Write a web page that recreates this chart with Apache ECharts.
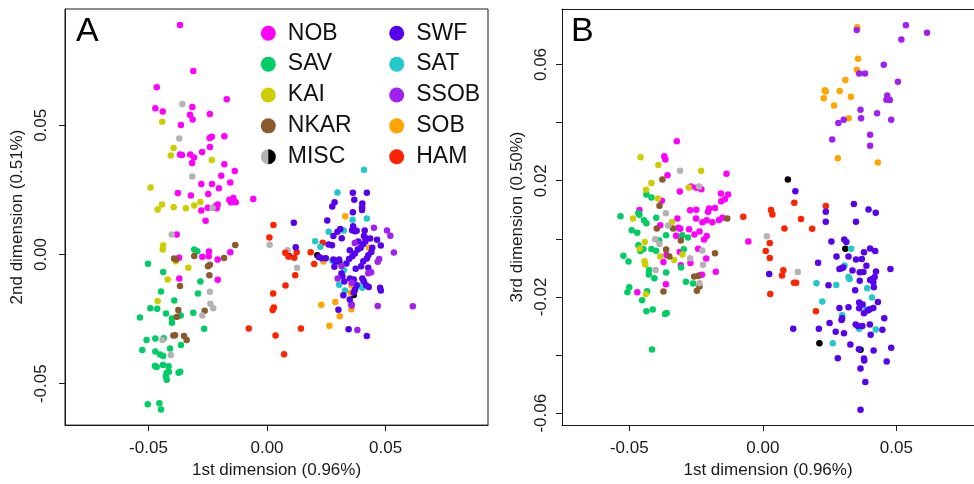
<!DOCTYPE html>
<html>
<head>
<meta charset="utf-8">
<script src="https://cdn.jsdelivr.net/npm/echarts@6/dist/echarts.min.js"></script>
<style>
  html, body { margin: 0; padding: 0; background: #fff; }
  #chart { width: 974px; height: 484px; }
</style>
</head>
<body>
<div id="chart"></div>
<script>
// Panel A: 1st vs 2nd dimension
const nobA = [[-0.0367,0.0888],[-0.0311,0.0710],[-0.0465,0.0647],[-0.0170,0.0601],[-0.0471,0.0566],[-0.0440,0.0553],[-0.0315,0.0571],[-0.0325,0.0541],[-0.0241,0.0544],[-0.0314,0.0522],[-0.0363,0.0501],[-0.0180,0.0458],[-0.0242,0.0451],[-0.0233,0.0456],[-0.0241,0.0416],[-0.0367,0.0387],[-0.0359,0.0385],[-0.0324,0.0387],[-0.0308,0.0375],[-0.0274,0.0397],[-0.0316,0.0354],[-0.0180,0.0349],[-0.0136,0.0323],[-0.0193,0.0305],[-0.0277,0.0273],[-0.0232,0.0273],[-0.0155,0.0279],[-0.0203,0.0256],[-0.0376,0.0238],[-0.0321,0.0228],[-0.0248,0.0234],[-0.0142,0.0219],[-0.0277,0.0170],[-0.0250,0.0181],[-0.0219,0.0186],[-0.0208,0.0194],[-0.0212,0.0179],[-0.0159,0.0212],[-0.0152,0.0202],[-0.0132,0.0202],[-0.0259,0.0131],[-0.0381,0.0077],[-0.0371,-0.0012],[-0.0273,-0.0009],[-0.0245,0.0012],[-0.0246,-0.0007],[-0.0208,-0.0019],[-0.0155,0.0009],[-0.0370,-0.0093],[-0.0208,-0.0098],[-0.0058,0.0215]];
const savA = [[-0.0307,0.0019],[-0.0294,0.0013],[-0.0502,-0.0036],[-0.0438,-0.0068],[-0.0281,-0.0104],[-0.0447,-0.0143],[-0.0291,-0.0151],[-0.0391,-0.0178],[-0.0492,-0.0208],[-0.0463,-0.0210],[-0.0426,-0.0228],[-0.0311,-0.0225],[-0.0401,-0.0248],[-0.0401,-0.0264],[-0.0536,-0.0244],[-0.0364,-0.0236],[-0.0265,-0.0287],[-0.0508,-0.0331],[-0.0471,-0.0325],[-0.0436,-0.0324],[-0.0363,-0.0350],[-0.0409,-0.0364],[-0.0526,-0.0369],[-0.0471,-0.0375],[-0.0451,-0.0387],[-0.0438,-0.0393],[-0.0473,-0.0431],[-0.0465,-0.0435],[-0.0439,-0.0427],[-0.0415,-0.0432],[-0.0423,-0.0457],[-0.0414,-0.0454],[-0.0373,-0.0457],[-0.0366,-0.0454],[-0.0427,-0.0472],[-0.0423,-0.0485],[-0.0503,-0.0579],[-0.0454,-0.0575],[-0.0447,-0.0600]];
const kaiA = [[-0.0442,0.0514],[-0.0394,0.0412],[-0.0406,0.0383],[-0.0233,0.0366],[-0.0491,0.0259],[-0.0443,0.0194],[-0.0461,0.0174],[-0.0394,0.0183],[-0.0342,0.0179],[-0.0307,0.0190],[-0.0281,0.0203],[-0.0438,0.0035],[-0.0440,0.0019],[-0.0385,-0.0026],[-0.0332,-0.0051],[-0.0419,-0.0097],[-0.0461,-0.0180]];
const nkarA = [[-0.0134,0.0037],[-0.0392,-0.0015],[-0.0384,-0.0019],[-0.0307,-0.0006],[-0.0249,-0.0045],[-0.0241,-0.0040],[-0.0243,-0.0080],[-0.0181,-0.0013],[-0.0367,-0.0122],[-0.0374,-0.0215],[-0.0380,-0.0241],[-0.0263,-0.0218],[-0.0395,-0.0313],[-0.0388,-0.0312],[-0.0350,-0.0315],[-0.0339,-0.0331]];
const miscGreyA = [[-0.0357,0.0582],[-0.0370,0.0449],[-0.0315,0.0302],[-0.0230,0.0180],[-0.0402,0.0077],[-0.0241,-0.0144],[-0.0239,-0.0190],[-0.0227,-0.0208],[-0.0273,-0.0236],[-0.0441,-0.0331],[-0.0406,-0.0389],[0.0011,0.0038],[0.0087,0.0017],[0.0127,-0.0051]];
const miscBlackA = [[0.0094,-0.0007],[0.0212,-0.0003],[0.0305,-0.0028],[0.0366,-0.0157]];
const swfA = [[0.0362,0.0239],[0.0421,0.0239],[0.0368,0.0212],[0.0285,0.0202],[0.0275,0.0186],[0.0402,0.0197],[0.0401,0.0183],[0.0401,0.0172],[0.0362,0.0164],[0.0254,0.0132],[0.0113,0.0123],[0.0363,0.0109],[0.0359,0.0094],[0.0371,0.0090],[0.0309,0.0099],[0.0297,0.0088],[0.0280,0.0072],[0.0315,0.0063],[0.0412,0.0093],[0.0409,0.0072],[0.0415,0.0064],[0.0378,0.0092],[0.0435,0.0062],[0.0464,0.0057],[0.0385,0.0050],[0.0274,0.0036],[0.0260,0.0039],[0.0121,0.0028],[0.0219,-0.0010],[0.0231,-0.0014],[0.0248,-0.0014],[0.0280,-0.0019],[0.0288,-0.0026],[0.0304,-0.0019],[0.0284,-0.0047],[0.0335,-0.0035],[0.0346,-0.0017],[0.0360,-0.0007],[0.0371,0.0004],[0.0383,0.0019],[0.0395,0.0026],[0.0405,0.0040],[0.0415,0.0050],[0.0349,0.0017],[0.0374,-0.0055],[0.0397,-0.0045],[0.0406,-0.0026],[0.0421,-0.0015],[0.0427,-0.0003],[0.0440,0.0010],[0.0444,0.0026],[0.0480,0.0035],[0.0427,-0.0051],[0.0314,-0.0073],[0.0318,-0.0084],[0.0326,-0.0104],[0.0350,-0.0093],[0.0366,-0.0097],[0.0402,-0.0093],[0.0408,-0.0103],[0.0418,-0.0119],[0.0429,-0.0126],[0.0378,-0.0119],[0.0371,-0.0136],[0.0366,-0.0147],[0.0322,-0.0158],[0.0349,-0.0174],[0.0356,-0.0193],[0.0477,-0.0129],[0.0480,-0.0139],[0.0301,-0.0214],[0.0344,-0.0289],[0.0421,-0.0315]];
const satA = [[0.0409,0.0328],[0.0297,0.0240],[0.0361,0.0135],[0.0421,0.0139],[0.0324,0.0093],[0.0260,0.0088],[0.0203,0.0051],[0.0225,0.0030],[0.0276,-0.0024],[0.0324,-0.0061],[0.0304,-0.0117],[0.0389,-0.0122],[0.0402,-0.0129],[0.0329,-0.0139]];
const ssobA = [[0.0451,0.0104],[0.0506,0.0093],[0.0520,0.0073],[0.0370,0.0045],[0.0314,-0.0044],[0.0473,-0.0017],[0.0467,-0.0028],[0.0535,0.0008],[0.0427,-0.0072],[0.0439,-0.0069],[0.0298,-0.0093],[0.0357,-0.0109],[0.0357,-0.0197],[0.0467,-0.0199],[0.0615,-0.0200],[0.0381,-0.0292]];
const sobA = [[0.0330,0.0148],[0.0238,-0.0027],[0.0430,0.0026],[0.0356,-0.0120],[0.0353,-0.0148],[0.0229,-0.0194],[0.0288,-0.0184],[0.0356,-0.0212],[0.0307,-0.0239],[0.0263,-0.0276]];
const hamA = [[0.0027,0.0114],[0.0010,0.0066],[0.0077,0.0007],[0.0090,-0.0008],[0.0115,-0.0012],[0.0125,0.0009],[0.0184,0.0009],[0.0199,-0.0037],[0.0235,0.0046],[0.0119,-0.0080],[0.0078,-0.0120],[0.0026,-0.0151],[0.0029,-0.0205],[0.0024,-0.0215],[-0.0077,-0.0286],[0.0143,-0.0286],[0.0036,-0.0313],[0.0072,-0.0386]];

// Panel B: 1st vs 3rd dimension
const nobB = [[-0.0322,0.0336],[-0.0369,0.0284],[-0.0365,0.0273],[-0.0357,0.0219],[-0.0136,0.0224],[-0.0269,0.0180],[-0.0249,0.0176],[-0.0230,0.0171],[-0.0311,0.0163],[-0.0378,0.0131],[-0.0157,0.0156],[-0.0130,0.0153],[-0.0142,0.0136],[-0.0156,0.0129],[-0.0462,0.0099],[-0.0272,0.0098],[-0.0249,0.0100],[-0.0201,0.0104],[-0.0179,0.0106],[-0.0205,0.0093],[-0.0320,0.0070],[-0.0250,0.0070],[-0.0210,0.0064],[-0.0189,0.0057],[-0.0226,0.0057],[-0.0164,0.0065],[-0.0151,0.0073],[-0.0054,-0.0009],[-0.0384,0.0047],[-0.0316,0.0038],[-0.0309,0.0035],[-0.0276,0.0033],[-0.0325,0.0011],[-0.0256,0.0015],[-0.0237,0.0025],[-0.0210,0.0010],[-0.0220,-0.0002],[-0.0361,-0.0056],[-0.0242,-0.0034],[-0.0311,-0.0045],[-0.0212,-0.0068],[-0.0372,-0.0080],[-0.0271,-0.0083],[-0.0307,-0.0091],[-0.0176,-0.0113],[-0.0236,-0.0125],[-0.0228,-0.0124],[-0.0363,-0.0156],[-0.0470,-0.0184]];
const savB = [[-0.0436,0.0153],[-0.0417,0.0142],[-0.0466,0.0088],[-0.0462,0.0083],[-0.0533,0.0078],[-0.0445,0.0064],[-0.0436,0.0054],[-0.0399,0.0073],[-0.0491,0.0030],[-0.0470,0.0021],[-0.0362,0.0012],[-0.0302,0.0012],[-0.0280,0.0005],[-0.0388,-0.0006],[-0.0466,-0.0022],[-0.0458,-0.0042],[-0.0447,-0.0035],[-0.0417,-0.0035],[-0.0400,-0.0041],[-0.0296,-0.0036],[-0.0522,-0.0058],[-0.0503,-0.0078],[-0.0426,-0.0107],[-0.0406,-0.0136],[-0.0427,-0.0123],[-0.0362,-0.0116],[-0.0306,-0.0099],[-0.0288,-0.0148],[-0.0261,-0.0154],[-0.0500,-0.0167],[-0.0507,-0.0184],[-0.0433,-0.0180],[-0.0452,-0.0211],[-0.0436,-0.0249],[-0.0412,-0.0243],[-0.0366,-0.0259],[-0.0360,-0.0255],[-0.0415,-0.0381]];
const kaiB = [[-0.0458,0.0281],[-0.0391,0.0254],[-0.0231,0.0234],[-0.0417,0.0192],[-0.0277,0.0177],[-0.0437,0.0169],[-0.0393,0.0139],[-0.0486,0.0070],[-0.0340,0.0058],[-0.0442,-0.0011],[-0.0461,-0.0033],[-0.0384,-0.0061],[-0.0332,-0.0073],[-0.0301,-0.0054],[-0.0443,-0.0077],[-0.0440,-0.0088],[-0.0438,-0.0191]];
const nkarB = [[-0.0376,0.0204],[-0.0387,0.0114],[-0.0133,0.0070],[-0.0397,0.0036],[-0.0336,0.0036],[-0.0307,-0.0006],[-0.0362,-0.0037],[-0.0350,-0.0061],[-0.0179,-0.0050],[-0.0257,-0.0130],[-0.0243,-0.0128],[-0.0237,-0.0164],[-0.0247,-0.0179],[-0.0372,-0.0181]];
const miscGreyB = [[-0.0310,0.0234],[-0.0239,0.0180],[-0.0363,0.0088],[-0.0354,0.0046],[-0.0403,-0.0001],[-0.0387,-0.0018],[-0.0227,-0.0040],[-0.0272,-0.0067],[-0.0224,-0.0089],[-0.0401,-0.0107],[-0.0237,-0.0153],[0.0015,0.0009],[0.0131,-0.0114]];
const miscBlackB = [[0.0094,0.0204],[0.0309,-0.0034],[0.0212,-0.0359],[0.0366,-0.0382]];
const swfB = [[0.0122,0.0164],[0.0236,0.0093],[0.0236,0.0059],[0.0341,0.0120],[0.0396,0.0101],[0.0423,0.0090],[0.0349,0.0059],[0.0257,-0.0009],[0.0305,-0.0002],[0.0313,-0.0011],[0.0379,-0.0046],[0.0402,-0.0033],[0.0421,-0.0042],[0.0207,-0.0082],[0.0276,-0.0061],[0.0321,-0.0061],[0.0349,-0.0071],[0.0371,-0.0069],[0.0287,-0.0104],[0.0295,-0.0101],[0.0301,-0.0099],[0.0336,-0.0109],[0.0388,-0.0093],[0.0363,-0.0115],[0.0377,-0.0114],[0.0424,-0.0112],[0.0478,-0.0104],[0.0363,-0.0144],[0.0402,-0.0142],[0.0410,-0.0138],[0.0419,-0.0131],[0.0414,-0.0149],[0.0246,-0.0160],[0.0346,-0.0177],[0.0416,-0.0167],[0.0361,-0.0219],[0.0374,-0.0226],[0.0431,-0.0217],[0.0287,-0.0238],[0.0321,-0.0235],[0.0361,-0.0239],[0.0379,-0.0256],[0.0393,-0.0247],[0.0401,-0.0242],[0.0414,-0.0238],[0.0297,-0.0273],[0.0295,-0.0279],[0.0455,-0.0273],[0.0114,-0.0309],[0.0210,-0.0309],[0.0250,-0.0290],[0.0348,-0.0295],[0.0356,-0.0300],[0.0373,-0.0300],[0.0401,-0.0295],[0.0404,-0.0330],[0.0448,-0.0313],[0.0273,-0.0320],[0.0304,-0.0325],[0.0328,-0.0364],[0.0360,-0.0380],[0.0415,-0.0384],[0.0481,-0.0375],[0.0281,-0.0411],[0.0379,-0.0412],[0.0380,-0.0419],[0.0464,-0.0422],[0.0366,-0.0446],[0.0384,-0.0493],[0.0366,-0.0588],[0.0024,-0.0121]];
const satB = [[0.0331,-0.0034],[0.0306,-0.0092],[0.0321,-0.0131],[0.0325,-0.0138],[0.0201,-0.0153],[0.0275,-0.0159],[0.0391,-0.0170],[0.0409,-0.0202],[0.0223,-0.0216],[0.0388,-0.0243],[0.0297,-0.0263],[0.0361,-0.0309],[0.0423,-0.0312],[0.0262,-0.0359]];
const ssobB = [[0.0352,0.0719],[0.0536,0.0735],[0.0615,0.0709],[0.0519,0.0686],[0.0361,0.0569],[0.0383,0.0569],[0.0453,0.0599],[0.0506,0.0541],[0.0466,0.0493],[0.0463,0.0479],[0.0476,0.0478],[0.0366,0.0444],[0.0428,0.0432],[0.0368,0.0415],[0.0481,0.0410],[0.0283,0.0399],[0.0303,0.0410],[0.0402,0.0358],[0.0260,0.0342],[0.0402,0.0320]];
const sobB = [[0.0354,0.0728],[0.0357,0.0620],[0.0352,0.0582],[0.0309,0.0547],[0.0232,0.0511],[0.0236,0.0507],[0.0288,0.0509],[0.0228,0.0484],[0.0330,0.0489],[0.0267,0.0459],[0.0322,0.0415],[0.0281,0.0277],[0.0431,0.0263]];
const hamB = [[-0.0073,0.0076],[0.0031,0.0099],[0.0036,0.0084],[0.0118,0.0124],[0.0143,0.0068],[0.0081,0.0036],[0.0185,0.0035],[0.0236,0.0113],[0.0026,-0.0014],[0.0011,-0.0042],[0.0026,-0.0066],[0.0077,-0.0108],[0.0072,-0.0126],[0.0117,-0.0151],[0.0125,-0.0151],[0.0028,-0.0190],[0.0199,-0.0249]];

const xTicks = [-0.05, 0, 0.05];
const yTicksA = [-0.05, 0, 0.05];
const yTicksB = [-0.06, -0.04, -0.02, 0, 0.02, 0.04, 0.06];
const yLabelsB = [-0.06, -0.02, 0.02, 0.06];

const legendLeft = ['NOB', 'SAV', 'KAI', 'NKAR', 'MISC'];
const legendRight = ['SWF', 'SAT', 'SSOB', 'SOB', 'HAM'];

const colors = {
  NOB: '#ff00ff', SAV: '#00cd66', KAI: '#cdcd00', NKAR: '#8b5a2b', MISC: '#b3b3b3',
  SWF: '#5500ee', SAT: '#22c8cc', SSOB: '#a020f0', SOB: '#ffa500', HAM: '#ff2200'
};

const font = 'Liberation Sans';
const ink = '#1a1a1a';

function xAxis(gridIndex, min, max) {
  return {
    type: 'value', gridIndex, min, max,
    name: '1st dimension (0.96%)', nameLocation: 'middle', nameGap: 27,
    nameTextStyle: { fontFamily: font, fontSize: 17, color: ink },
    axisLine: { show: true, onZero: false, lineStyle: { color: ink, width: 1 } },
    splitLine: { show: false },
    axisTick: { show: true, length: 6, customValues: xTicks, lineStyle: { color: ink } },
    axisLabel: { customValues: xTicks, margin: 15, fontFamily: font, fontSize: 17, color: ink,
      formatter: v => v.toFixed(2) }
  };
}
function yAxis(gridIndex, min, max, name, ticks, labels, gap, margin) {
  return {
    type: 'value', gridIndex, min, max,
    name, nameLocation: 'middle', nameGap: gap, nameRotate: 90,
    nameTextStyle: { fontFamily: font, fontSize: 17, color: ink },
    axisLine: { show: true, onZero: false, lineStyle: { color: ink, width: 1 } },
    splitLine: { show: false },
    axisTick: { show: true, length: 6, customValues: ticks, lineStyle: { color: ink } },
    axisLabel: { customValues: labels, rotate: 90, margin, fontFamily: font, fontSize: 17, color: ink,
      formatter: v => v.toFixed(2) }
  };
}

function pts(name, data, color, idx) {
  return {
    name, type: 'scatter', xAxisIndex: idx, yAxisIndex: idx, data,
    symbol: 'circle', symbolSize: 6.5, itemStyle: { color, opacity: 1 }, silent: true
  };
}

const series = [
  pts('NOB', nobA, colors.NOB, 0), pts('SAV', savA, colors.SAV, 0), pts('KAI', kaiA, colors.KAI, 0),
  pts('NKAR', nkarA, colors.NKAR, 0), pts('MISC', miscGreyA, colors.MISC, 0), pts('MISC black', miscBlackA, '#000', 0),
  pts('HAM', hamA, colors.HAM, 0), pts('SAT', satA, colors.SAT, 0), pts('SOB', sobA, colors.SOB, 0),
  pts('SWF', swfA, colors.SWF, 0), pts('SSOB', ssobA, colors.SSOB, 0),
  pts('NOB', nobB, colors.NOB, 1), pts('SAV', savB, colors.SAV, 1), pts('KAI', kaiB, colors.KAI, 1),
  pts('NKAR', nkarB, colors.NKAR, 1), pts('MISC', miscGreyB, colors.MISC, 1), pts('MISC black', miscBlackB, '#000', 1),
  pts('HAM', hamB, colors.HAM, 1), pts('SAT', satB, colors.SAT, 1), pts('SOB', sobB, colors.SOB, 1),
  pts('SWF', swfB, colors.SWF, 1), pts('SSOB', ssobB, colors.SSOB, 1)
];

function legend(data, left) {
  return {
    data, orient: 'vertical', left, top: 21.8, padding: 0,
    itemWidth: 15, itemHeight: 15, itemGap: 7.85, icon: 'circle', selectedMode: false,
    itemStyle: { opacity: 1 },
    textStyle: { fontFamily: font, fontSize: 23, color: '#111', padding: [0, 0, 0, 7] }
  };
}

const chart = echarts.init(document.getElementById('chart'));
chart.setOption({
  animation: false,
  backgroundColor: '#fff',
  grid: [
    { left: 65, top: 9, width: 423, height: 417, show: true, borderColor: ink, borderWidth: 1 },
    // panel B runs past the right edge of the figure, so only left, bottom and top edges are seen
    { left: 562, top: 9, right: 0, height: 417 }
  ],
  xAxis: [
    xAxis(0, -0.0852, 0.0932),
    xAxis(1, -0.0752, 0.0791),
    { type: 'value', gridIndex: 1, position: 'top', min: -0.0752, max: 0.0791,
      axisLine: { show: true, onZero: false, lineStyle: { color: ink, width: 1 } },
      axisTick: { show: false }, axisLabel: { show: false }, splitLine: { show: false } }
  ],
  yAxis: [
    yAxis(0, -0.066, 0.095, '2nd dimension (0.51%)', yTicksA, yTicksA, 39, 15),
    yAxis(1, -0.0641, 0.0791, '3rd dimension (0.50%)', yTicksB, yLabelsB, 36, 12)
  ],
  legend: [legend(legendLeft, 260.8), legend(legendRight, 389.2)],
  graphic: [
    { type: 'text', left: 76, top: 15, style: { text: 'A', font: '34px Liberation Sans', fill: '#000' } },
    { type: 'text', left: 571, top: 15, style: { text: 'B', font: '34px Liberation Sans', fill: '#000' } },
    { type: 'sector', shape: { cx: 268.3, cy: 156.7, r: 7.5, startAngle: -Math.PI / 2, endAngle: Math.PI / 2 },
      style: { fill: '#000' }, z: 100 }
  ],
  series
});
</script>
</body>
</html>
